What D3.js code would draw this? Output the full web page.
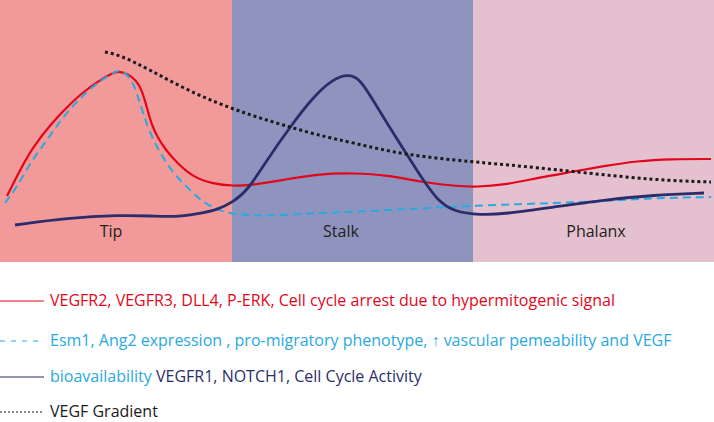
<!DOCTYPE html>
<html>
<head>
<meta charset="utf-8">
<script src="https://cdn.jsdelivr.net/npm/d3@7"></script>
<style>
  html, body { margin: 0; padding: 0; background: #ffffff; }
  svg { display: block; }
  text { font-family: "Open Sans", "Noto Sans", sans-serif; }
</style>
</head>
<body>
<svg id="chart" width="714" height="422"></svg>
<script>
// ---- data (x: position along sprout, y: relative level) ----
const stageNames = ["Tip", "Stalk", "Phalanx"];
const stageStart = [0, 232, 473];
const stageEnd = [232, 473, 714];
const stageLabelX = [111, 341, 596];
const stageColors = ["#f29a9a", "#8f94bf", "#e5c0ce"];

const redX = [7, 20, 33, 50, 67, 83, 100, 113, 118, 128, 136, 142, 147, 152, 158, 165, 177, 193, 213, 233, 253, 283, 317, 354, 387, 421, 454, 477, 504, 537, 571, 604, 637, 671, 711];
const redY = [66, 92, 115, 137, 155, 170, 182, 189, 191, 188, 182, 172, 154, 136, 124, 113, 99, 85, 78, 76, 77, 82, 88, 89, 87, 80, 76, 75, 77, 84, 90, 96, 101, 103, 103];

const blueX = [5, 17, 30, 47, 63, 80, 97, 110, 117, 125, 133, 138, 143, 150, 160, 173, 187, 200, 217, 233, 247, 267, 317, 354, 444, 521, 587, 654, 711];
const blueY = [59, 75, 99, 122, 145, 164, 179, 187, 192, 190, 180, 165, 149, 129, 109, 89, 75, 62, 52, 48, 47, 46, 49, 50, 55, 58, 60, 64, 65];

const navyX = [15, 67, 120, 153, 173, 197, 217, 233, 248, 267, 290, 313, 333, 348, 360, 371, 387, 404, 421, 437, 454, 481, 504, 554, 604, 654, 704];
const navyY = [37, 44, 47, 46, 45, 48, 52, 60, 72, 102, 135, 165, 183, 188, 183, 165, 139, 112, 85, 62, 50, 47, 48, 55, 62, 67, 69];

const gradX = [105, 120, 150, 183, 217, 250, 283, 317, 354, 404, 474, 521, 587, 654, 711];
const gradY = [210, 207, 192, 174, 159, 147, 137, 127, 119, 107, 100, 96, 89, 82, 80];

const legendItems = [
  { key: "red", parts: [["VEGFR2, VEGFR3, DLL4, P-ERK, Cell cycle arrest due to hypermitogenic signal", "#e3061b"]] },
  { key: "blue", parts: [["Esm1, Ang2 expression , pro-migratory phenotype,  ", "#29a9e1"], ["\u2191", "#29a9e1"], ["  vascular pemeability and VEGF", "#29a9e1"]] },
  { key: "navy", parts: [["bioavailability ", "#29a9e1"], ["VEGFR1, NOTCH1, Cell Cycle Activity", "#2b2d6b"]] },
  { key: "grad", parts: [["VEGF Gradient", "#1a1a1a"]] }
];

// ---- styles ----
const seriesStyle = {
  red:  { color: "#e3061b", width: 2.2, dash: null },
  blue: { color: "#29a9e1", width: 2, dash: "8,5" },
  navy: { color: "#2b2d6b", width: 2.8, dash: null },
  grad: { color: "#1a1a1a", width: 3, dash: "3,3" }
};
const legendStyle = {
  red:  { color: "#e3061b", width: 1.2, dash: null },
  blue: { color: "#29a9e1", width: 1.2, dash: "5,6" },
  navy: { color: "#2b2d6b", width: 1.2, dash: null },
  grad: { color: "#1a1a1a", width: 1, dash: "2,2" }
};

const svg = d3.select("#chart");
const plotH = 262;
const x = d3.scaleLinear().domain([0, 714]).range([0, 714]);
const y = d3.scaleLinear().domain([0, plotH]).range([plotH, 0]);

// background stages
svg.append("g").selectAll("rect")
  .data(stageNames.map((n, i) => ({ n, s: stageStart[i], e: stageEnd[i], c: stageColors[i] })))
  .join("rect")
  .attr("x", d => x(d.s))
  .attr("y", y(plotH))
  .attr("width", d => x(d.e) - x(d.s))
  .attr("height", y(0) - y(plotH))
  .attr("fill", d => d.c);

const line = d3.line()
  .x(d => x(d[0]))
  .y(d => y(d[1]))
  .curve(d3.curveBasis);

const series = [
  { key: "grad", xs: gradX, ys: gradY },
  { key: "navy", xs: navyX, ys: navyY },
  { key: "blue", xs: blueX, ys: blueY },
  { key: "red",  xs: redX,  ys: redY }
];

const order = ["red", "blue", "navy", "grad"];
order.forEach(k => {
  const s = series.find(v => v.key === k);
  const st = seriesStyle[k];
  svg.append("path")
    .datum(s.xs.map((v, i) => [v, s.ys[i]]))
    .attr("d", line)
    .attr("fill", "none")
    .attr("stroke", st.color)
    .attr("stroke-width", st.width)
    .attr("stroke-dasharray", st.dash)
    .attr("stroke-linecap", "butt");
});

// stage labels
svg.append("g").selectAll("text")
  .data(stageNames.map((n, i) => ({ n, lx: stageLabelX[i] })))
  .join("text")
  .attr("x", d => x(d.lx))
  .attr("y", 237)
  .attr("text-anchor", "middle")
  .attr("font-size", 16)
  .attr("fill", "#231f20")
  .text(d => d.n);

// legend
const legendY = [301, 341, 377, 412];
const lg = svg.append("g");
legendItems.forEach((item, i) => {
  const st = legendStyle[item.key];
  const ly = legendY[i];
  lg.append("line")
    .attr("x1", 0).attr("x2", 44)
    .attr("y1", ly).attr("y2", ly)
    .attr("stroke", st.color)
    .attr("stroke-width", st.width)
    .attr("stroke-dasharray", st.dash);
  const t = lg.append("text")
    .attr("x", 50)
    .attr("y", ly + 5)
    .attr("font-size", 16);
  item.parts.forEach(p => {
    t.append("tspan").attr("fill", p[1]).text(p[0]);
  });
});
</script>
</body>
</html>
